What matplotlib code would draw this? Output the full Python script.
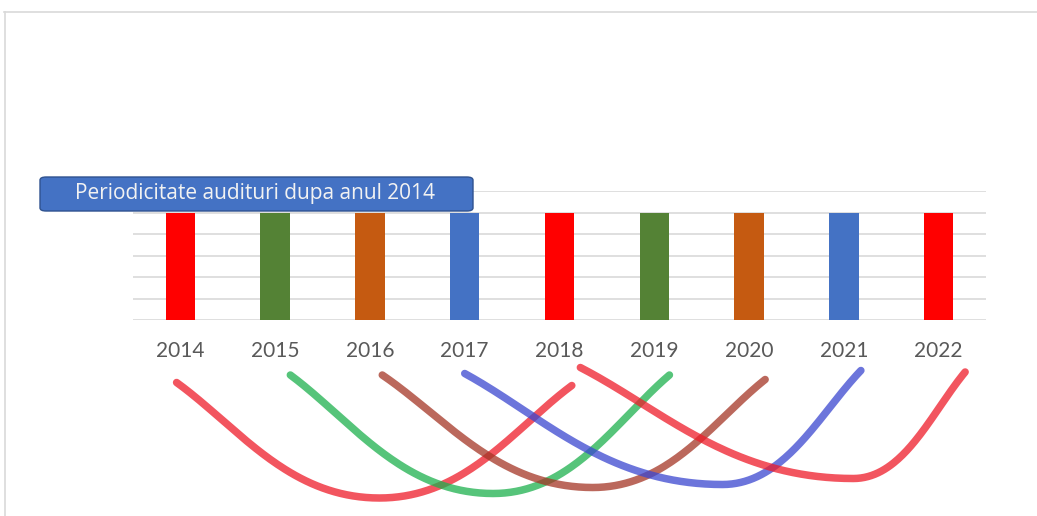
import numpy as np
import matplotlib
matplotlib.use("Agg")
import matplotlib.pyplot as plt
from matplotlib.patches import FancyBboxPatch
from matplotlib.lines import Line2D

# data ------------------------------------------------------------------
years = ["2014", "2015", "2016", "2017", "2018", "2019", "2020", "2021", "2022"]
audits = [1, 1, 1, 1, 1, 1, 1, 1, 1]
bar_colors = ["#FF0000", "#548235", "#C55A11", "#4472C4",
              "#FF0000", "#548235", "#C55A11", "#4472C4", "#FF0000"]
title = "Periodicitate audituri dupa anul 2014"

# hand-drawn arcs linking each audit year to the next one (4 years later)
arc_from = ["2014", "2015", "2016", "2017", "2018"]
arc_to = ["2018", "2019", "2020", "2021", "2022"]
arc_colors = ["#EE1C2A", "#1EB04E", "#A43626", "#3B47D0", "#EE1C2A"]
arc_start_x = [-0.04, 1.16, 2.13, 3.00, 4.22]
arc_end_x = [4.13, 5.16, 6.17, 7.18, 8.28]
arc_start_h = [0.85, 0.90, 0.90, 0.91, 0.95]
arc_end_h = [0.83, 0.90, 0.87, 0.93, 0.92]
arc_low_h = [0.08, 0.11, 0.15, 0.17, 0.21]
arc_low_x = [2.10, 3.30, 4.35, 5.72, 7.10]

plt.rcParams.update({"font.family": ["Lato", "DejaVu Sans"]})
W, H = 1037, 516
fig = plt.figure(figsize=(W / 100, H / 100), dpi=100)

def fx(px): return px / W
def fy(py): return 1 - py / H

# chart frame (light grey, runs off the right/bottom edge)
fig.add_artist(Line2D([fx(4), 1.01], [fy(12), fy(12)], color="#D9D9D9", lw=1.2))
fig.add_artist(Line2D([fx(5), fx(5)], [fy(12), -0.01], color="#D9D9D9", lw=1.2))

# bars -------------------------------------------------------------------
ax = fig.add_axes([fx(133), fy(320), fx(986) - fx(133), fy(191) - fy(320)])
x = np.arange(len(years))
ax.bar(x, audits, width=0.31, color=bar_colors, zorder=3)
ax.set_xlim(-0.5, len(years) - 0.5)
ax.set_ylim(0, 1.2)
ax.set_yticks(np.arange(0, 1.21, 0.2))
ax.yaxis.grid(True, color="#D9D9D9", lw=1.2)
ax.set_axisbelow(True)
ax.set_yticklabels([])
ax.set_xticks(x, years)
ax.tick_params(length=0, pad=15, labelsize=15, labelcolor="#595959")
for s in ax.spines.values():
    s.set_visible(False)

# label box --------------------------------------------------------------
box = FancyBboxPatch((fx(40), fy(211)), fx(473) - fx(40), fy(177) - fy(211),
                     boxstyle="round,pad=0,rounding_size=0.006",
                     transform=fig.transFigure, facecolor="#4472C4",
                     edgecolor="#2F528F", lw=1.0, zorder=5)
fig.add_artist(box)
fig.text(fx(255), fy(194), title, ha="center", va="center", color="#F2F2F2",
         fontsize=15, family=["Open Sans", "DejaVu Sans"], zorder=6)

# arcs -------------------------------------------------------------------
axa = fig.add_axes([fx(133), fy(510), fx(986) - fx(133), fy(360) - fy(510)])
axa.set_xlim(-0.5, len(years) - 0.5)
axa.set_ylim(0, 1)
axa.axis("off")

def side(b, e, n=80):
    b, e = np.asarray(b, float), np.asarray(e, float)
    d = e - b
    c1 = np.array([b[0] + 0.45 * d[0], b[1]])
    c2 = np.array([e[0] - 0.30 * d[0], e[1] - 0.38 * d[1]])
    t = np.linspace(0, 1, n)[:, None]
    return (1 - t) ** 3 * b + 3 * (1 - t) ** 2 * t * c1 + 3 * (1 - t) * t ** 2 * c2 + t ** 3 * e

for c, xs, xe, hs, he, hl, xl in zip(arc_colors, arc_start_x, arc_end_x, arc_start_h,
                                     arc_end_h, arc_low_h, arc_low_x):
    low = (xl, hl)
    left = side(low, (xs, hs))[::-1]
    right = side(low, (xe, he))
    pts = np.vstack([left, right[1:]])
    axa.plot(pts[:, 0], pts[:, 1], color=c, lw=5.4, alpha=0.75,
             solid_capstyle="round", solid_joinstyle="round", clip_on=False)

fig.savefig("out.png", dpi=100)
